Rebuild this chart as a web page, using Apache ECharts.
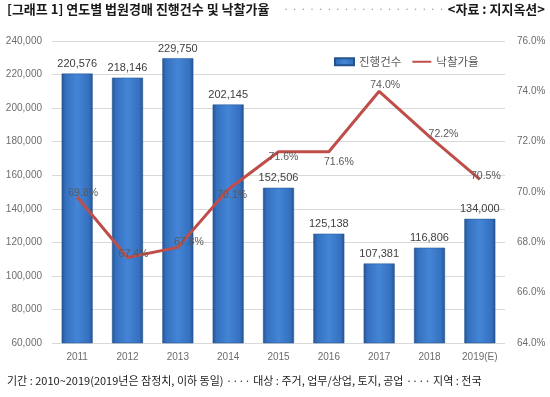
<!DOCTYPE html>
<html>
<head>
<meta charset="utf-8">
<script src="https://cdn.jsdelivr.net/npm/echarts@6/dist/echarts.min.js"></script>
<style>
	html, body { margin: 0; padding: 0; background: #fff; }
	#chart { width: 550px; height: 397px; }
</style>
</head>
<body>
<div id="chart"></div>
<script>
const years = ['2011', '2012', '2013', '2014', '2015', '2016', '2017', '2018', '2019(E)']
const cases = [220576, 218146, 229750, 202145, 152506, 125138, 107381, 116806, 134000]
const rates = [69.8, 67.4, 67.8, 70.1, 71.6, 71.6, 74.0, 72.2, 70.5]

const numFont = '"Liberation Sans Narrow", "Liberation Sans", sans-serif'
const krFont = '"Noto Sans CJK KR", sans-serif'

// where the rate labels sit, like in the original sheet
const rateLabelPlace = {
	2: { offset: [11, 0] },
	3: { position: 'bottom', offset: [4, 0] },
	4: { position: 'bottom', offset: [5, 0] },
	5: { position: 'bottom', offset: [10, 5] },
	6: { offset: [6, -1] },
	7: { offset: [14, 3] }
}

const node = document.getElementById('chart')
const myChart = echarts.init(node)

const barColor = new echarts.graphic.LinearGradient(0, 0, 1, 0, [
	{ offset: 0, color: '#24548f' },
	{ offset: 0.12, color: '#3570bf' },
	{ offset: 0.5, color: '#4485d6' },
	{ offset: 0.88, color: '#3570bf' },
	{ offset: 1, color: '#24548f' }
])

const option = {
	animation: false,
	textStyle: { fontFamily: numFont },
	grid: { left: 52, right: 45, top: 41, bottom: 54 },
	legend: {
		left: 329,
		top: 51,
		itemWidth: 19,
		itemHeight: 7,
		itemGap: 10,
		textStyle: { fontFamily: krFont, fontSize: 11.5, color: '#595959' },
		data: [
			{ name: '진행건수', icon: 'rect' },
			{ name: '낙찰가율', itemStyle: { opacity: 0 } }
		]
	},
	xAxis: {
		type: 'category',
		data: years,
		axisLine: { show: false },
		axisTick: { show: false },
		axisLabel: { color: '#6d6d6d', fontSize: 10, margin: 9 }
	},
	yAxis: [
		{
			type: 'value',
			min: 60000,
			max: 240000,
			interval: 20000,
			axisLine: { show: false },
			axisTick: { show: false },
			splitLine: { lineStyle: { color: '#d9d9d9' } },
			axisLabel: {
				color: '#6d6d6d',
				fontSize: 10,
				margin: 10,
				formatter: v => v.toLocaleString('en-US')
			}
		},
		{
			type: 'value',
			min: 64,
			max: 76,
			interval: 2,
			axisLine: { show: false },
			axisTick: { show: false },
			splitLine: { show: false },
			axisLabel: {
				color: '#6d6d6d',
				fontSize: 10,
				margin: 12,
				formatter: v => v.toFixed(1) + '%'
			}
		}
	],
	series: [
		{
			name: '진행건수',
			type: 'bar',
			barWidth: 31,
			data: cases,
			itemStyle: { color: barColor, borderColor: '#24548f', borderWidth: 0.5 },
			label: {
				show: true,
				position: 'top',
				distance: 4,
				color: '#404040',
				fontSize: 11,
				formatter: p => p.value.toLocaleString('en-US')
			}
		},
		{
			name: '낙찰가율',
			type: 'line',
			yAxisIndex: 1,
			data: rates.map((v, i) => rateLabelPlace[i]
				? { value: v, label: rateLabelPlace[i] }
				: v),
			symbol: 'circle',
			symbolSize: 0,
			lineStyle: { color: '#bf4e4a', width: 3 },
			itemStyle: { color: '#bf4e4a' },
			z: 5,
			label: {
				show: true,
				position: 'top',
				distance: 0,
				offset: [6, 2],
				color: '#595959',
				fontSize: 10.5,
				formatter: p => p.value.toFixed(1) + '%'
			}
		}
	],
	graphic: [
		{
			type: 'text',
			left: 7,
			top: 3,
			style: {
				text: '[그래프 1] 연도별 법원경매 진행건수 및 낙찰가율',
				font: 'bold 13px "Noto Sans CJK KR"',
				fill: '#1a1a1a'
			}
		},
		{
			type: 'text',
			left: 283,
			top: 3,
			style: {
				text: '· · · · · · · · · · · · · · · · · · · ·',
				font: '11px "Noto Sans CJK KR"',
				fill: '#9a9a9a'
			}
		},
		{
			type: 'text',
			right: 5,
			top: 3,
			style: {
				text: '<자료 : 지지옥션>',
				font: 'bold 13px "Noto Sans CJK KR"',
				fill: '#1a1a1a'
			}
		},
		{
			type: 'text',
			left: 7,
			top: 375,
			style: {
				text: '기간 : 2010~2019(2019년은 잠정치, 이하 동일) ···· 대상 : 주거, 업무/상업, 토지, 공업 ···· 지역 : 전국',
				font: '11px "Noto Sans CJK KR"',
				fill: '#222'
			}
		}
	]
}

myChart.setOption(option)
</script>
</body>
</html>
